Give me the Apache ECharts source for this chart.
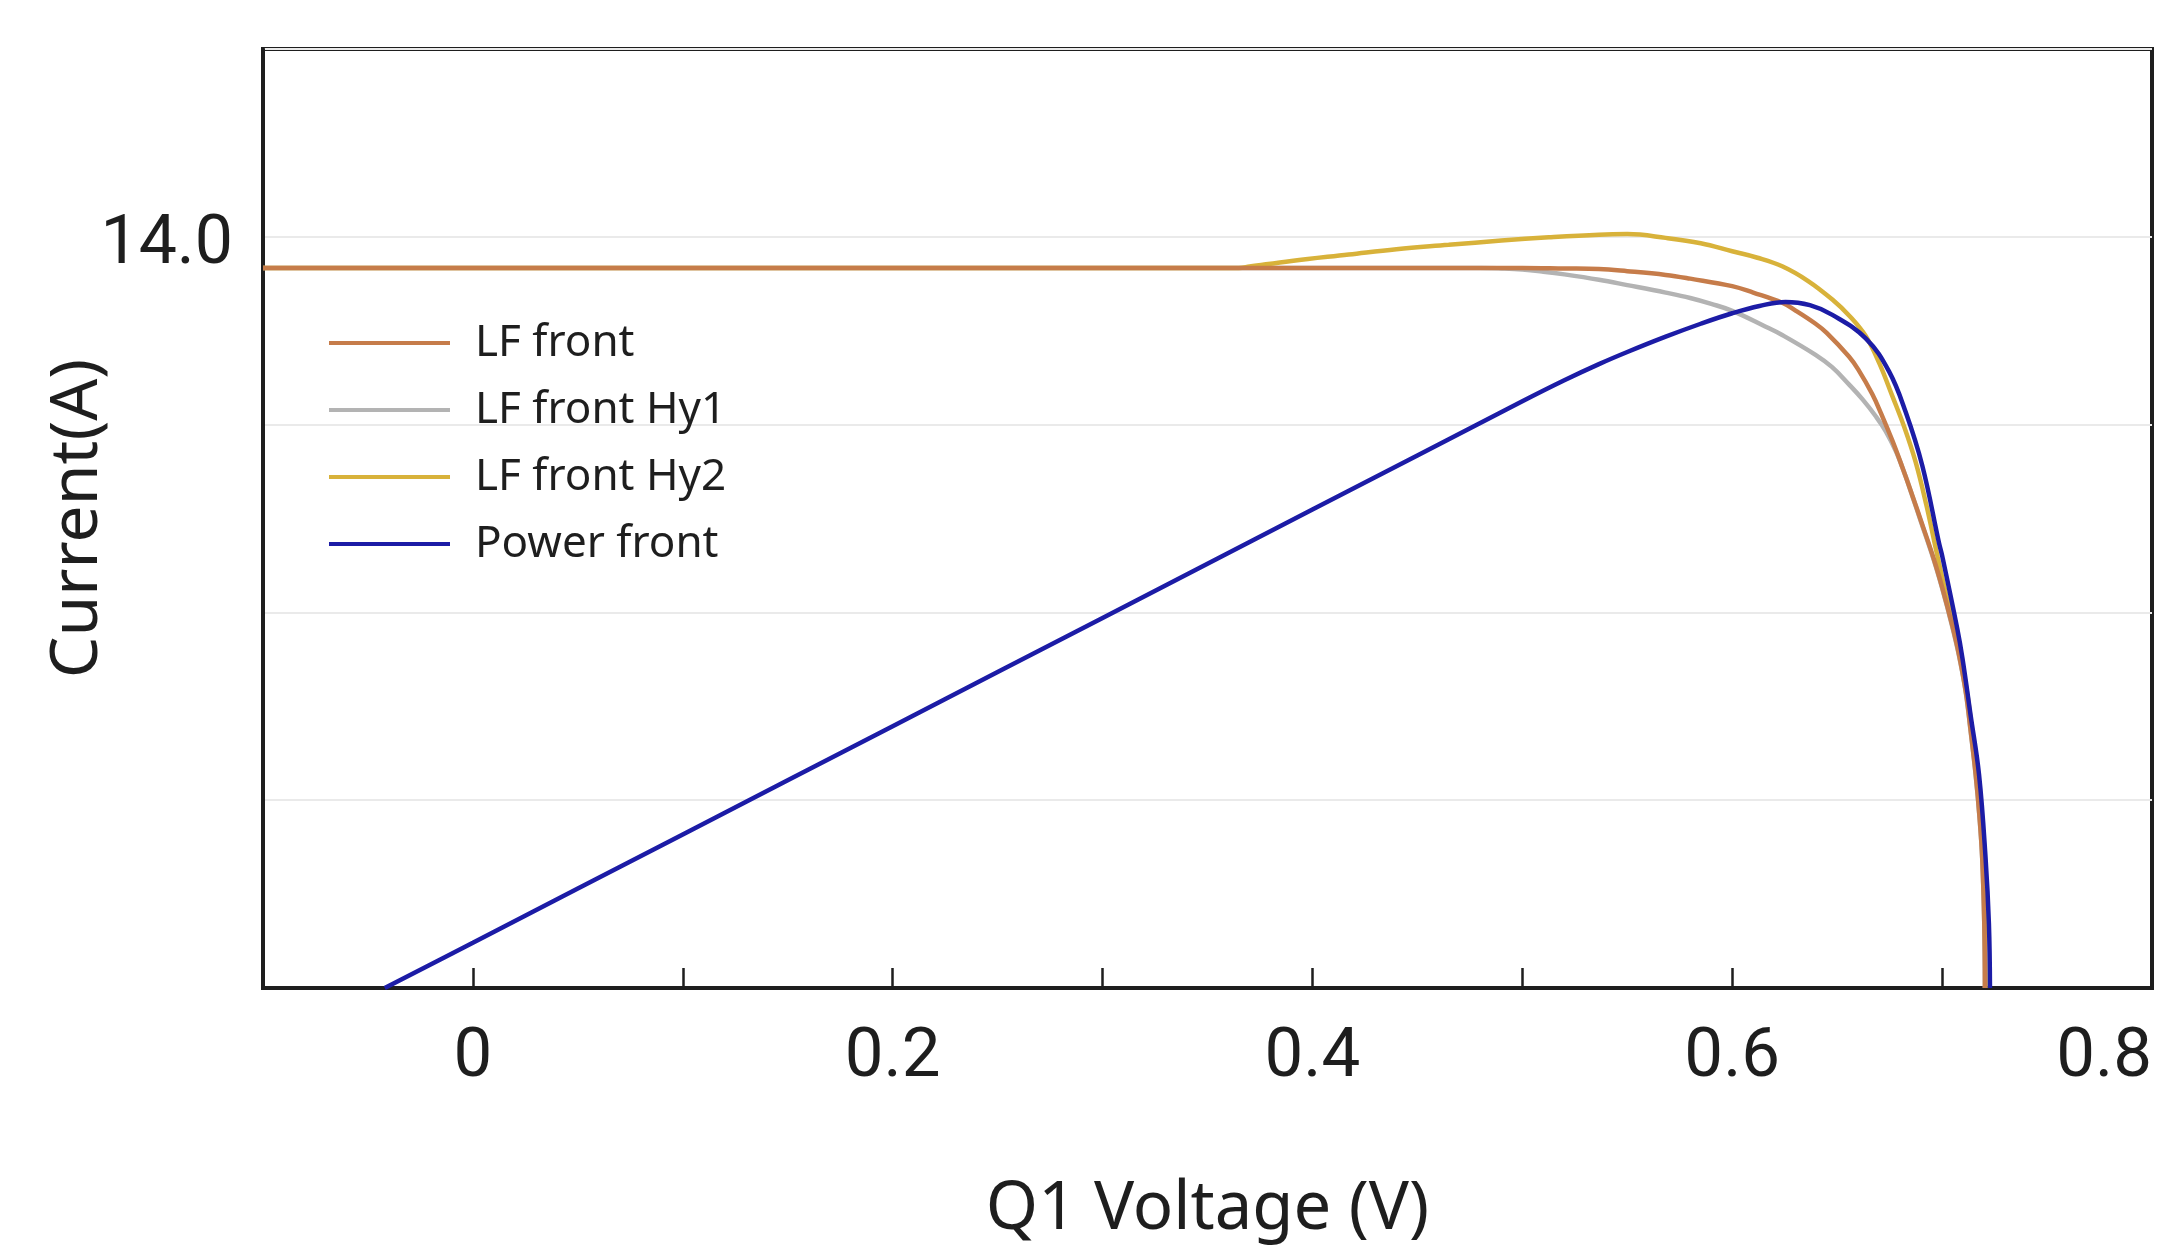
<!DOCTYPE html>
<html>
<head>
<meta charset="utf-8">
<script src="https://cdn.jsdelivr.net/npm/echarts@6/dist/echarts.min.js"></script>
<style>
html,body{margin:0;padding:0;background:#fff;}
#chart{width:2166px;height:1248px;}
</style>
</head>
<body>
<div id="chart"></div>
<script>
// ---- data ----
const seriesNames = ['LF front', 'LF front Hy1', 'LF front Hy2', 'Power front'];

const voltLF = [-0.1, 0.46, 0.50, 0.52, 0.5365, 0.55, 0.5683, 0.58, 0.60, 0.61, 0.6238, 0.63, 0.6397, 0.645, 0.6556, 0.66, 0.6667, 0.671, 0.6763, 0.681, 0.6858, 0.69, 0.696, 0.70, 0.7048, 0.708, 0.7113, 0.7135, 0.716, 0.7178, 0.7191, 0.7201, 0.7204];
const currLF = [13.42, 13.42, 13.42, 13.41, 13.40, 13.36, 13.29, 13.22, 13.08, 12.96, 12.77, 12.63, 12.38, 12.21, 11.77, 11.53, 11.07, 10.70, 10.20, 9.71, 9.18, 8.70, 8.00, 7.47, 6.76, 6.22, 5.52, 4.83, 3.98, 3.20, 2.43, 1.19, 0];

const voltHy1 = [-0.1, 0.46, 0.48, 0.49, 0.50, 0.51, 0.52, 0.5365, 0.55, 0.5683, 0.58, 0.59, 0.60, 0.6157, 0.6238, 0.6397, 0.6476, 0.6556, 0.6621, 0.6683, 0.6731, 0.678, 0.6825, 0.6858, 0.69, 0.696, 0.70, 0.7048, 0.708, 0.7113, 0.7135, 0.716, 0.7178, 0.7191, 0.7201, 0.7204];
const currHy1 = [13.42, 13.42, 13.42, 13.41, 13.39, 13.35, 13.30, 13.20, 13.10, 12.96, 12.86, 12.75, 12.62, 12.33, 12.17, 11.80, 11.57, 11.25, 10.97, 10.66, 10.38, 10.00, 9.55, 9.17, 8.68, 7.98, 7.45, 6.74, 6.20, 5.50, 4.81, 3.96, 3.18, 2.41, 1.17, 0];

const voltHy2 = [-0.1, 0.365, 0.37, 0.39, 0.4173, 0.44, 0.4649, 0.49, 0.5126, 0.5365, 0.55, 0.5683, 0.585, 0.60, 0.612, 0.6238, 0.636, 0.6477, 0.656, 0.6636, 0.670, 0.6763, 0.682, 0.6874, 0.6925, 0.6975, 0.7015, 0.7056, 0.7088, 0.712, 0.7142, 0.7166, 0.7183, 0.7195, 0.7204, 0.7207];
const currHy2 = [13.42, 13.42, 13.445, 13.55, 13.67, 13.77, 13.85, 13.93, 13.99, 14.04, 14.05, 13.98, 13.88, 13.73, 13.61, 13.45, 13.18, 12.83, 12.52, 12.15, 11.65, 11.03, 10.45, 9.80, 9.00, 8.10, 7.40, 6.74, 6.18, 5.48, 4.80, 3.95, 3.16, 2.40, 1.17, 0];

const voltPower = [-0.042, 0, 0.1, 0.2, 0.3, 0.4, 0.5, 0.52, 0.5365, 0.55, 0.5683, 0.585, 0.60, 0.613, 0.6254, 0.637, 0.6477, 0.6636, 0.6747, 0.6826, 0.6906, 0.6985, 0.7001, 0.7072, 0.7097, 0.7135, 0.7176, 0.7207, 0.7223, 0.7228];
const powerFront = [-0.56, 0, 1.34, 2.68, 4.02, 5.36, 6.70, 6.96, 7.16, 7.31, 7.50, 7.66, 7.79, 7.88, 7.93, 7.89, 7.77, 7.48, 7.07, 6.57, 5.90, 4.95, 4.78, 3.89, 3.52, 2.83, 2.08, 1.05, 0.23, -0.56];

const xTickLabels = ['0', '0.2', '0.4', '0.6', '0.8'];
const yTickLabels = ['14.0'];

const colors = ['#c67c4a', '#b3b3b3', '#d8b23a', '#1c1ca6'];

function pairs(xs, ys) { return xs.map((x, i) => [x, ys[i]]); }

const chart = echarts.init(document.getElementById('chart'), null, {renderer: 'canvas'});

const option = {
  backgroundColor: '#ffffff',
  animation: false,
  grid: {
    left: 263, right: 14, top: 49, bottom: 254,
    show: true, borderColor: '#1e1e1e', borderWidth: 4, backgroundColor: 'transparent'
  },
  legend: {
    data: seriesNames,
    orient: 'vertical',
    left: 329, top: 320,
    padding: 0,
    icon: 'rect',
    itemWidth: 121, itemHeight: 4,
    itemGap: 21,
    textStyle: {
      fontFamily: 'Noto Sans', fontSize: 44, color: '#1e1e1e',
      lineHeight: 46, padding: [0, 0, 0, 20]
    }
  },
  xAxis: {
    type: 'value',
    min: -0.1, max: 0.8, interval: 0.1,
    name: 'Q1 Voltage (V)',
    nameLocation: 'middle', nameGap: 188,
    nameMoveOverlap: false,
    nameTextStyle: {fontFamily: 'Noto Sans', fontSize: 67, color: '#1e1e1e'},
    axisLine: {show: true, onZero: false, lineStyle: {color: '#1e1e1e', width: 4}},
    axisTick: {show: true, inside: true, length: 20, lineStyle: {color: '#1e1e1e', width: 2.5}},
    splitLine: {show: false},
    axisLabel: {
      fontFamily: 'Roboto', fontSize: 69, color: '#1e1e1e', margin: 36,
      alignMaxLabel: 'right',
      formatter: function (v) {
        const k = Math.round(v * 10);
        if (k < 0 || k % 2 !== 0) return '';
        return xTickLabels[k / 2] || '';
      }
    }
  },
  yAxis: [{
    type: 'value',
    min: 0, max: 17.5, interval: 3.5,
    name: 'Current(A)',
    nameLocation: 'middle', nameGap: 152, nameRotate: 90,
    nameMoveOverlap: false,
    nameTextStyle: {fontFamily: 'Noto Sans', fontSize: 66, color: '#1e1e1e'},
    axisLine: {show: true, onZero: false, lineStyle: {color: '#1e1e1e', width: 4}},
    axisTick: {show: false},
    splitLine: {show: true, lineStyle: {color: '#eaeaea', width: 2}},
    axisLabel: {
      fontFamily: 'Roboto', fontSize: 68, color: '#1e1e1e', margin: 30,
      verticalAlign: 'top', lineHeight: 18,
      formatter: function (v) { return Math.abs(v - 14) < 1e-6 ? yTickLabels[0] : ''; }
    }
  }, {
    type: 'value',
    min: -0.56, max: 11.06,
    show: false,
    axisLine: {onZero: false},
    splitLine: {show: false}
  }],
  series: [
    {name: seriesNames[1], type: 'line', yAxisIndex: 0, data: pairs(voltHy1, currHy1), symbol: 'none', smooth: 0.4, z: 2,
     lineStyle: {color: colors[1], width: 4.5}, itemStyle: {color: colors[1]}},
    {name: seriesNames[2], type: 'line', yAxisIndex: 0, data: pairs(voltHy2, currHy2), symbol: 'none', smooth: 0.4, z: 3,
     lineStyle: {color: colors[2], width: 4.5}, itemStyle: {color: colors[2]}},
    {name: seriesNames[0], type: 'line', yAxisIndex: 0, data: pairs(voltLF, currLF), symbol: 'none', smooth: 0.4, z: 4,
     lineStyle: {color: colors[0], width: 4.5}, itemStyle: {color: colors[0]}},
    {name: seriesNames[3], type: 'line', yAxisIndex: 1, data: pairs(voltPower, powerFront), symbol: 'none', smooth: 0.4, z: 5,
     lineStyle: {color: colors[3], width: 4.5}, itemStyle: {color: colors[3]}}
  ]
};
chart.setOption(option);
</script>
</body>
</html>
